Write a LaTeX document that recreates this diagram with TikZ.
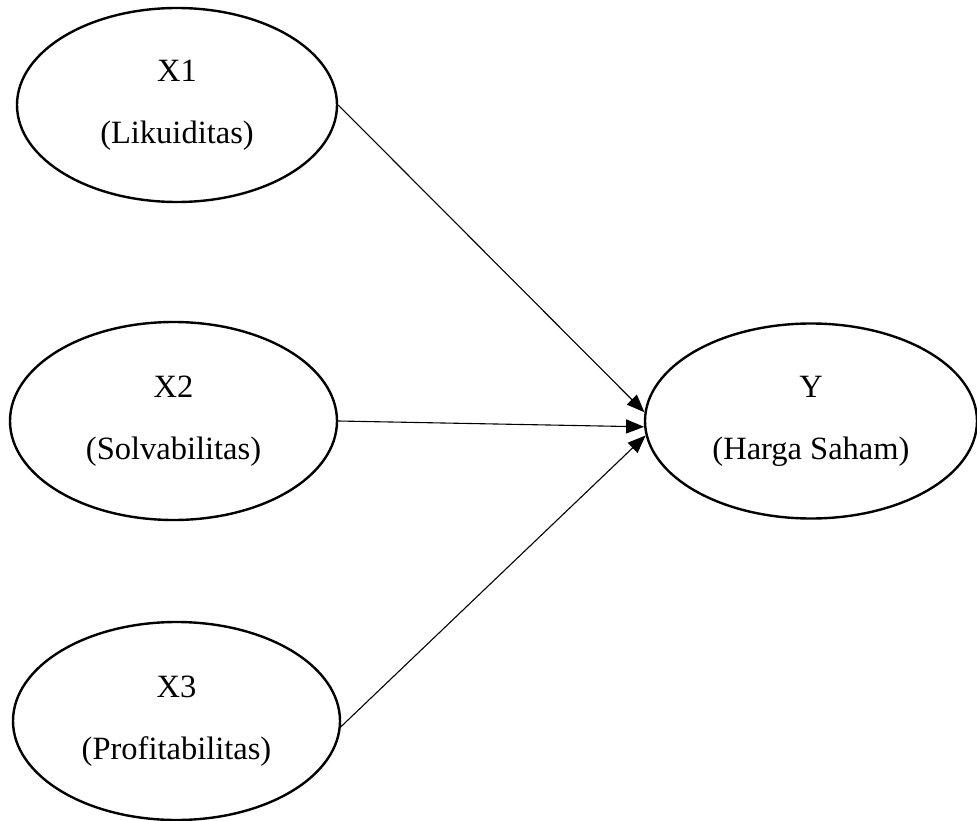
\documentclass[tikz,border=0pt]{standalone}
\usepackage{fontspec}
\setmainfont{Liberation Serif}
\usetikzlibrary{shapes.geometric,arrows.meta}

\tikzset{
  var/.style={draw, ellipse, line width=2.4pt, inner sep=0pt, align=center,
    font=\fontsize{32.5}{62}\selectfont},
  link/.style={-{Triangle[length=18pt,width=14pt]}, line width=1.1pt}
}

\begin{document}
\begin{tikzpicture}[x=1pt,y=-1pt]
        \useasboundingbox (0,0) rectangle (977,821);
        \node[var, minimum width=320, minimum height=194] (x1) at (177,105) {X1\\(Likuiditas)};
        \node[var, minimum width=327, minimum height=198] (x2) at (173.5,421) {X2\\(Solvabilitas)};
        \node[var, minimum width=327, minimum height=198] (x3) at (176.5,721) {X3\\(Profitabilitas)};
        \node[var, minimum width=332, minimum height=195] (y) at (811,421) {Y\\(Harga Saham)};
        \draw[link] (x1.east) -- (y.177);
        \draw[link] (x2.east) -- (y.182);
        \draw[link] (x3.-2) -- (y.185.5);
    \end{tikzpicture}
\end{document}
